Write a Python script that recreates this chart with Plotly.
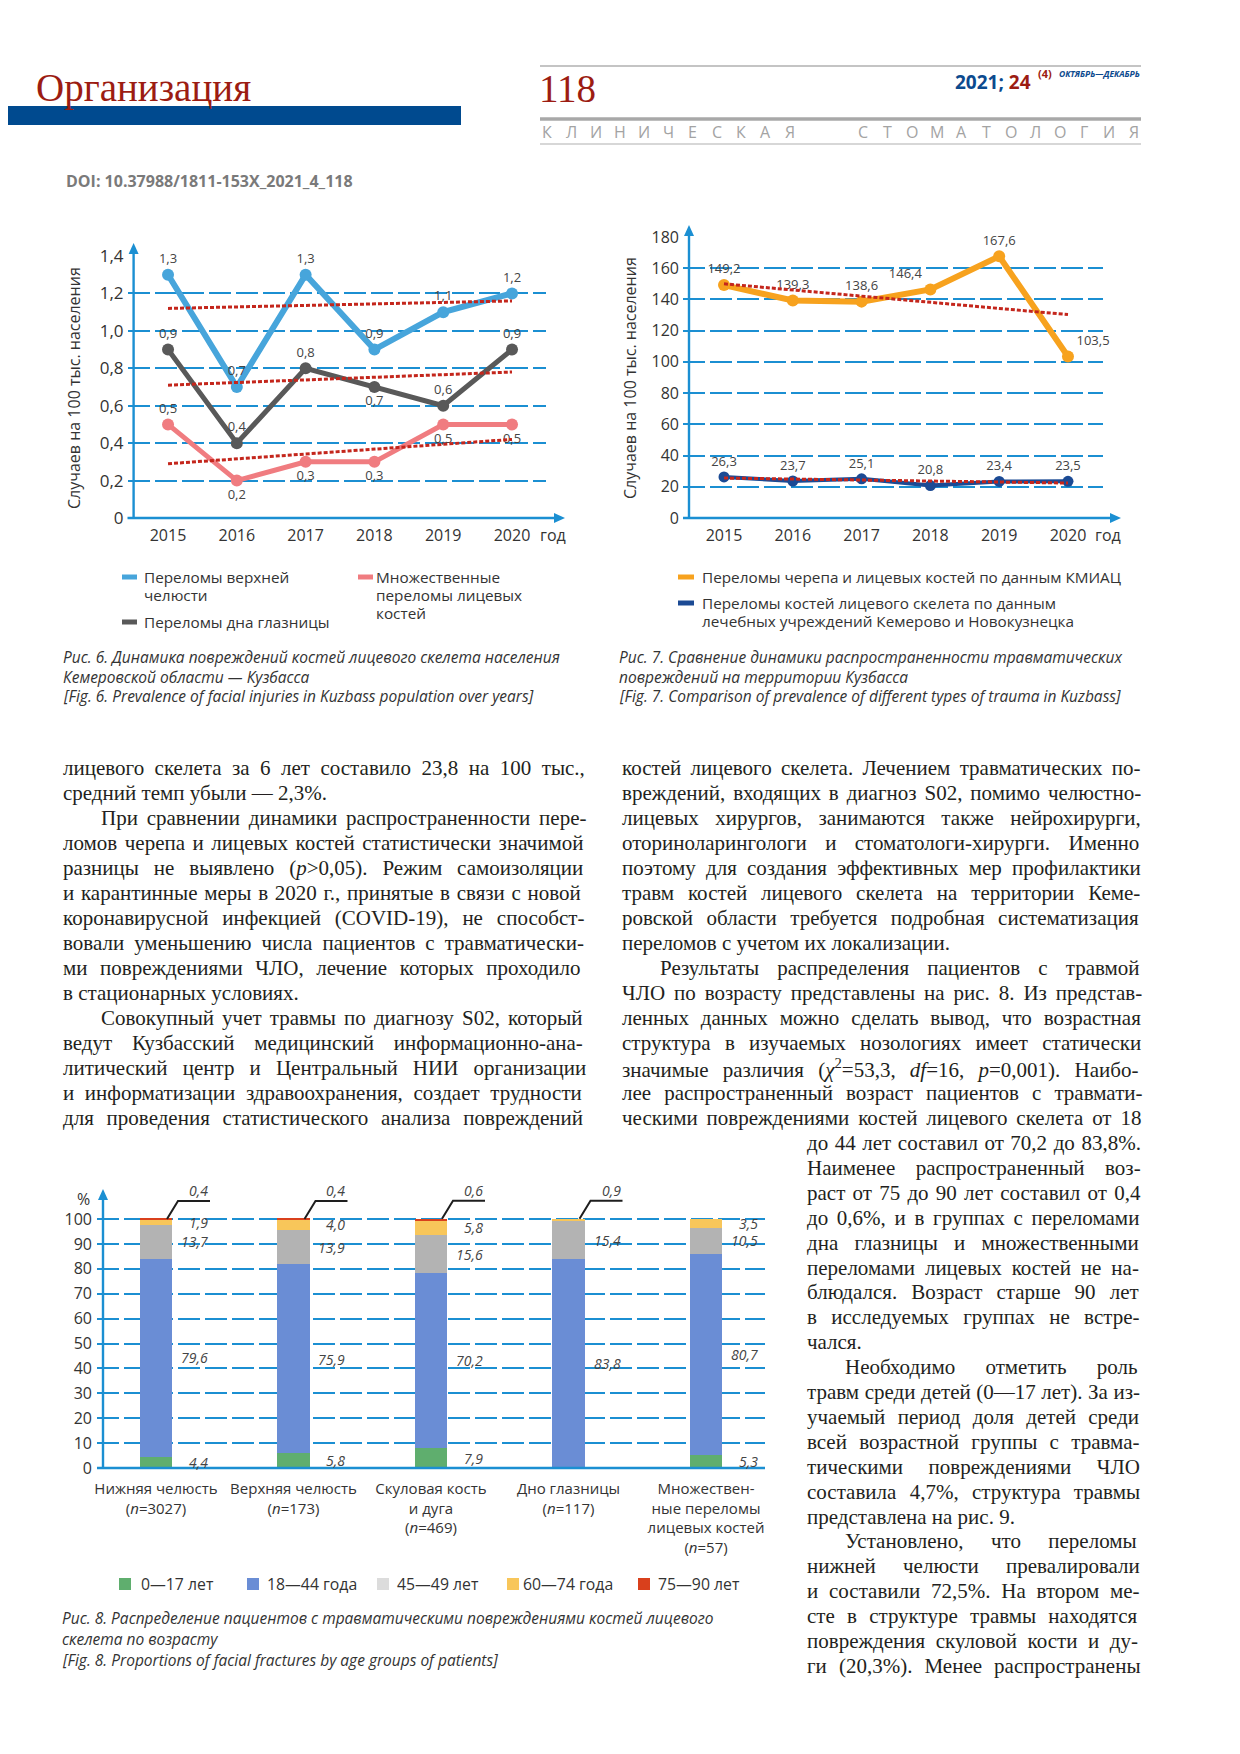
import re
import plotly.graph_objects as go

# page geometry: the browser keeps an 8px body margin, so the figure is 16px smaller
PAGE_W, PAGE_H = 1240, 1754
OFF = 8
FW, FH = PAGE_W - 2 * OFF, PAGE_H - 2 * OFF

# ---------------- DATA ----------------
# Fig. 6
years = [2015, 2016, 2017, 2018, 2019, 2020]
upper_jaw = [1.3, 0.7, 1.3, 0.9, 1.1, 1.2]
orbit_floor = [0.9, 0.4, 0.8, 0.7, 0.6, 0.9]
multiple_fx = [0.5, 0.2, 0.3, 0.3, 0.5, 0.5]
trend_years = [2015, 2020]
upper_jaw_trend = [1.12, 1.16]
orbit_floor_trend = [0.71, 0.78]
multiple_fx_trend = [0.29, 0.42]
fig6_yticks = [0, 0.2, 0.4, 0.6, 0.8, 1.0, 1.2, 1.4]

# Fig. 7
kmiac = [149.2, 139.3, 138.6, 146.4, 167.6, 103.5]
clinics = [26.3, 23.7, 25.1, 20.8, 23.4, 23.5]
kmiac_trend = [150.0, 130.3]
clinics_trend = [25.6, 22.4]
fig7_yticks = [0, 20, 40, 60, 80, 100, 120, 140, 160, 180]

# Fig. 8
categories = ["Нижняя челюсть", "Верхняя челюсть", "Скуловая кость<br>и дуга",
              "Дно глазницы", "Множествен-<br>ные переломы<br>лицевых костей"]
cat_n = [3027, 173, 469, 117, 57]
age_groups = ["0—17 лет", "18—44 года", "45—49 лет", "60—74 года", "75—90 лет"]
age_0_17 = [4.4, 5.8, 7.9, 0.0, 5.3]
age_18_44 = [79.6, 75.9, 70.2, 83.8, 80.7]
age_45_59 = [13.7, 13.9, 15.6, 15.4, 10.5]
age_60_74 = [1.9, 4.0, 5.8, 0.9, 3.5]
age_75_90 = [0.4, 0.4, 0.6, 0.0, 0.0]
fig8_yticks = [0, 10, 20, 30, 40, 50, 60, 70, 80, 90, 100]

# ---------------- STYLE ----------------
SANS = "Open Sans, Noto Sans, DejaVu Sans, sans-serif"
SERIF = "Liberation Serif, Times New Roman, serif"
AX = "#1b8fd2"
TXT = "#333333"
LBL = "#444444"
C_BLUE = "#47a5db"
C_GRAY = "#595959"
C_PINK = "#f07c80"
C_ORANGE = "#f7a21e"
C_NAVY = "#1b4a94"
C_TREND = "#c4261c"
AGE_COLORS = ["#5fae6e", "#6a8dd5", "#b3b3b3", "#f8c65a", "#d9401c"]
AGE_SWATCH = ["#5fae6e", "#6a8dd5", "#dcdcdc", "#f8c65a", "#d9401c"]
RED_DARK = "#9c1c12"
BLUE_DARK = "#0c4a8e"
LEG = 15.3


def X(px):
    return (px - OFF) / FW


def Y(py):
    return 1 - (py - OFF) / FH


def fmt(v):
    return "0" if v == 0 else f"{v:.1f}".replace(".", ",")


annotations = []
shapes = []


def txt(x, y, s, size=16, color=TXT, family=SANS, xanchor="left", yanchor="middle", **kw):
    annotations.append(dict(x=X(x), y=Y(y), xref="paper", yref="paper", text=s,
                            showarrow=False, font=dict(size=size, color=color, family=family),
                            xanchor=xanchor, yanchor=yanchor, **kw))


def line(x0, y0, x1, y1, color, width, dash=None):
    shapes.append(dict(type="line", xref="paper", yref="paper", x0=X(x0), y0=Y(y0),
                       x1=X(x1), y1=Y(y1), line=dict(color=color, width=width, dash=dash)))


def rect(x0, y0, x1, y1, color):
    shapes.append(dict(type="rect", xref="paper", yref="paper", x0=X(x0), y0=Y(y0),
                       x1=X(x1), y1=Y(y1), line=dict(width=0), fillcolor=color))


def poly(points, color):
    path = "M " + " L ".join(f"{X(px)} {Y(py)}" for px, py in points) + " Z"
    shapes.append(dict(type="path", xref="paper", yref="paper", path=path,
                       fillcolor=color, line=dict(width=0)))


def arrow_up(x, y0, y1, color=AX, width=2.4):
    line(x, y0, x, y1 + 6, color, width)
    poly([(x - 5, y1 + 11), (x + 5, y1 + 11), (x, y1)], color)


def arrow_right(x0, x1, y, color=AX, width=2.4):
    line(x0, y, x1 - 6, y, color, width)
    poly([(x1 - 11, y - 5), (x1 - 11, y + 5), (x1, y)], color)


fig = go.Figure()

# ---------------- FIG 6 ----------------
pos_upper = ["top center"] * 6
pos_orbit = ["top center", "top center", "top center", "bottom center", "top center", "top center"]
pos_mult = ["top center", "bottom center", "bottom center", "bottom center", "bottom center", "bottom center"]

for vals, col, w, pos in [(upper_jaw, C_BLUE, 6, pos_upper),
                          (orbit_floor, C_GRAY, 5, pos_orbit),
                          (multiple_fx, C_PINK, 5, pos_mult)]:
    fig.add_trace(go.Scatter(x=years, y=vals, mode="lines+markers+text",
                             line=dict(color=col, width=w), marker=dict(size=12, color=col),
                             text=[fmt(v) for v in vals], textposition=pos,
                             textfont=dict(size=13, color=LBL, family=SANS),
                             cliponaxis=False, xaxis="x", yaxis="y", hoverinfo="skip"))
for tr in [upper_jaw_trend, orbit_floor_trend, multiple_fx_trend]:
    fig.add_trace(go.Scatter(x=trend_years, y=tr, mode="lines",
                             line=dict(color=C_TREND, width=3, dash="4px,2px"),
                             xaxis="x", yaxis="y", hoverinfo="skip"))

# ---------------- FIG 7 ----------------
pos_kmiac = ["top center", "top center", "top center", "top left", "top center", "top right"]
fig.add_trace(go.Scatter(x=years, y=kmiac, mode="lines+markers+text",
                         line=dict(color=C_ORANGE, width=6), marker=dict(size=12, color=C_ORANGE),
                         text=[fmt(v) for v in kmiac], textposition=pos_kmiac,
                         textfont=dict(size=13, color=LBL, family=SANS),
                         cliponaxis=False, xaxis="x2", yaxis="y2", hoverinfo="skip"))
fig.add_trace(go.Scatter(x=years, y=clinics, mode="lines+markers+text",
                         line=dict(color=C_NAVY, width=4), marker=dict(size=11, color=C_NAVY),
                         text=[fmt(v) for v in clinics], textposition="top center",
                         textfont=dict(size=13, color=LBL, family=SANS),
                         cliponaxis=False, xaxis="x2", yaxis="y2", hoverinfo="skip"))
for tr in [kmiac_trend, clinics_trend]:
    fig.add_trace(go.Scatter(x=trend_years, y=tr, mode="lines",
                             line=dict(color=C_TREND, width=3, dash="4px,2px"),
                             xaxis="x2", yaxis="y2", hoverinfo="skip"))

# ---------------- FIG 8 ----------------
xpos = list(range(len(categories)))
series8 = [age_0_17, age_18_44, age_45_59, age_60_74, age_75_90]
for name, vals, col in zip(age_groups, series8, AGE_COLORS):
    fig.add_trace(go.Bar(x=xpos, y=vals, name=name, marker=dict(color=col, line=dict(width=0)),
                         width=0.233, xaxis="x3", yaxis="y3", hoverinfo="skip"))

# axes geometry (page pixels)
F6 = dict(x0=127.5, x1=546, y0=518, y1=256)
F7 = dict(x0=683, x1=1103, y0=518, y1=237)
F8 = dict(x0=97, x1=765, y0=1468)
f8_range_y = [0, 112]
f8_px_per_pct = 2.49
f8_range_x = [-0.429, 4.429]
F8["y1"] = F8["y0"] - f8_range_y[1] * f8_px_per_pct
f8_px_per_cat = (F8["x1"] - F8["x0"]) / (f8_range_x[1] - f8_range_x[0])

grid = dict(showgrid=True, gridcolor=AX, gridwidth=2.2, griddash="22px,5px", zeroline=False,
            showline=False, ticks="", automargin=False)
xcommon = dict(showgrid=False, zeroline=False, showline=False, ticks="", automargin=False)

layout_axes = dict(
    xaxis=dict(domain=[X(F6["x0"]), X(F6["x1"])], range=[2014.411, 2020.494], anchor="y",
               tickvals=years, tickfont=dict(size=16, color=TXT, family=SANS),
               ticklabelstandoff=6, **xcommon),
    yaxis=dict(domain=[Y(F6["y0"]), Y(F6["y1"])], range=[0, 1.4], anchor="x",
               tickvals=fig6_yticks, ticktext=[fmt(v) for v in fig6_yticks],
               tickfont=dict(size=17, color=TXT, family=SANS), ticklabelstandoff=3, **grid),
    xaxis2=dict(domain=[X(F7["x0"]), X(F7["x1"])], range=[2014.404, 2020.509], anchor="y2",
                tickvals=years, tickfont=dict(size=16, color=TXT, family=SANS),
                ticklabelstandoff=6, **xcommon),
    yaxis2=dict(domain=[Y(F7["y0"]), Y(F7["y1"])], range=[0, 180], anchor="x2",
                tickvals=fig7_yticks, ticktext=[str(v) for v in fig7_yticks],
                tickfont=dict(size=16, color=TXT, family=SANS), ticklabelstandoff=3, **grid),
    xaxis3=dict(domain=[X(F8["x0"]), X(F8["x1"])], range=f8_range_x, anchor="y3",
                tickvals=xpos,
                ticktext=[f"{c}<br>(<i>n</i>={n})" for c, n in zip(categories, cat_n)],
                tickfont=dict(size=15, color=TXT, family=SANS), ticklabelstandoff=10, **xcommon),
    yaxis3=dict(domain=[Y(F8["y0"]), Y(F8["y1"])], range=f8_range_y, anchor="x3",
                tickvals=fig8_yticks, ticktext=[str(v) for v in fig8_yticks],
                tickfont=dict(size=16, color=TXT, family=SANS), ticklabelstandoff=4, **grid),
)

# axis lines with arrows
arrow_right(F6["x0"], 565, 518)
arrow_up(133.6, 518, 243)
arrow_right(F7["x0"], 1121, 518)
arrow_up(689, 518, 225)
line(F8["x0"], F8["y0"], F8["x1"], F8["y0"], AX, 2.4)
arrow_up(103, 1468, 1189)

# axis titles / units
txt(74, 388, "Случаев на 100 тыс. населения", size=16, xanchor="center", textangle=-90)
txt(630, 378, "Случаев на 100 тыс. населения", size=16, xanchor="center", textangle=-90)
txt(553, 535, "год", size=16, xanchor="center")
txt(1108, 535, "год", size=16, xanchor="center")
txt(83, 1199, "%", size=16, xanchor="center")

# Fig 8 value labels
for i in xpos:
    vals = [s[i] for s in series8]
    nz = [k for k, v in enumerate(vals) if v > 0]
    top_k = nz[-1]
    cum = 0.0
    for k, v in enumerate(vals):
        if v <= 0:
            continue
        if k == top_k and v < 1:
            top = cum + v
            dx1 = 11 / f8_px_per_cat
            dx2 = 22 / f8_px_per_cat
            dx3 = 54 / f8_px_per_cat
            dy = 18 / f8_px_per_pct
            shapes.append(dict(type="path", xref="x3", yref="y3",
                               path=f"M {i + dx1} {top} L {i + dx2} {top + dy} L {i + dx3} {top + dy}",
                               line=dict(color="#1e1e1e", width=2)))
            annotations.append(dict(x=i, y=min(top, 100), xref="x3", yref="y3", text=f"<i>{fmt(v)}</i>",
                                    showarrow=False, xanchor="right", yanchor="middle",
                                    xshift=54, yshift=29,
                                    font=dict(size=14, color=LBL, family=SANS)))
        else:
            annotations.append(dict(x=i, y=cum + v / 2, xref="x3", yref="y3", text=f"<i>{fmt(v)}</i>",
                                    showarrow=False, xanchor="right", yanchor="middle",
                                    xshift=54, font=dict(size=14, color=LBL, family=SANS)))
        cum += v

# ---------------- LEGENDS ----------------
line(122, 577, 137, 577, C_BLUE, 5)
txt(142, 577, "Переломы верхней", size=LEG)
txt(142, 595, "челюсти", size=LEG)
line(122, 622, 137, 622, C_GRAY, 5)
txt(142, 622, "Переломы дна глазницы", size=LEG)
line(358, 577, 373, 577, C_PINK, 5)
txt(374, 577, "Множественные", size=LEG)
txt(374, 595, "переломы лицевых", size=LEG)
txt(374, 613, "костей", size=LEG)

line(678, 577, 694, 577, C_ORANGE, 5)
txt(700, 577, "Переломы черепа и лицевых костей по данным КМИАЦ", size=LEG)
line(678, 603, 694, 603, C_NAVY, 5)
txt(700, 603, "Переломы костей лицевого скелета по данным", size=LEG)
txt(700, 621, "лечебных учреждений Кемерово и Новокузнецка", size=LEG)

sw_x = [125, 253, 383, 513, 644]
tx_x = [139, 265, 395, 521, 656]
for g, c, sx, tx in zip(age_groups, AGE_SWATCH, sw_x, tx_x):
    rect(sx - 6, 1578, sx + 6, 1590, c)
    txt(tx, 1584, g, size=LEG + 0.5)

# ---------------- CAPTIONS ----------------
cap = dict(size=15.5, color="#333333", family=SANS)
for k, s in enumerate(["<i>Рис. 6. Динамика повреждений костей лицевого скелета населения</i>",
                       "<i>Кемеровской области — Кузбасса</i>",
                       "<i>[Fig. 6. Prevalence of facial injuries in Kuzbass population over years]</i>"]):
    txt(61, 657 + 19.5 * k, s, **cap)
for k, s in enumerate(["<i>Рис. 7. Сравнение динамики распространенности травматических</i>",
                       "<i>повреждений на территории Кузбасса</i>",
                       "<i>[Fig. 7. Comparison of prevalence of different types of trauma in Kuzbass]</i>"]):
    txt(617, 657 + 19.5 * k, s, **cap)
for k, s in enumerate(["<i>Рис. 8. Распределение пациентов с травматическими повреждениями костей лицевого</i>",
                       "<i>скелета по возрасту</i>",
                       "<i>[Fig. 8. Proportions of facial fractures by age groups of patients]</i>"]):
    txt(60, 1618 + 21 * k, s, **cap)

# ---------------- HEADER ----------------
txt(34, 88, "Организация", size=39, color=RED_DARK, family=SERIF)
rect(0, 106, 461, 125, "#004a8f")
txt(537, 88, "118", size=39, color=RED_DARK, family=SERIF)
line(540, 66, 1141, 66, "#b0b0b0", 1.5)
line(540, 119, 1141, 119, "#a8a8a8", 3.5)
line(540, 144, 1141, 144, "#b0b0b0", 1.2)
txt(1033, 82, f"<b><span style='color:{BLUE_DARK}'>2021; </span><span style='color:{RED_DARK}'>24</span></b>",
    size=19, xanchor="right")
txt(1036, 73, "<b>(4)</b>", size=11, color=RED_DARK)
txt(1142, 74, "<b><i>ОКТЯБРЬ—ДЕКАБРЬ</i></b>", size=8.5, color=BLUE_DARK, xanchor="right")
for k, ch in enumerate("КЛИНИЧЕСКАЯ"):
    txt(547 + 24.3 * k, 132, ch, size=16, color="#a3a3a3", xanchor="center")
for k, ch in enumerate("СТОМАТОЛОГИЯ"):
    txt(863 + 24.6 * k, 132, ch, size=16, color="#a3a3a3", xanchor="center")
txt(64, 181, "<b>DOI: 10.37988/1811-153X_2021_4_118</b>", size=16, color="#7a7a7a")

# ---------------- BODY TEXT (justified via word spacing) ----------------
TNR = {}
for ch, w in zip("абвгдеёжзийклмнопрстуфхцчшщъыьэюя",
                 [444, 500, 472, 410, 500, 444, 444, 691, 395, 535, 535, 486, 499, 633, 535, 500, 535,
                  500, 444, 437, 500, 648, 500, 535, 503, 770, 770, 517, 672, 456, 429, 747, 485]):
    TNR[ch] = w
for ch, w in zip("АБВГДЕЁЖЗИЙКЛМНОПРСТУФХЦЧШЩЪЫЬЭЮЯ",
                 [722, 574, 667, 578, 682, 611, 611, 896, 501, 722, 722, 667, 678, 889, 722, 722, 722,
                  556, 667, 611, 715, 790, 722, 722, 668, 1000, 1000, 700, 880, 574, 653, 1000, 667]):
    TNR[ch] = w
TNR.update({" ": 250, ",": 250, ".": 250, "-": 333, "—": 1000, "(": 333, ")": 333, "%": 833,
            ">": 564, "=": 564, ":": 278, "S": 556, "C": 667, "O": 722, "V": 722, "I": 333,
            "D": 722, "p": 500, "d": 500, "f": 333, "χ": 549, "\u0001": 350})
for dgt in "0123456789":
    TNR[dgt] = 500
CAL = 1.0

BODY_SIZE = 21
BODY = dict(size=BODY_SIZE, color="#231f20", family=SERIF)
IND = 38


def plain_text(s):
    s = re.sub(r"<sup>(.*?)</sup>", lambda m: "\u0001" * len(m.group(1)), s)
    return re.sub(r"<[^>]+>", "", s).replace("&gt;", ">")


def justify(s, width, last):
    if last:
        return s
    p = plain_text(s)
    nat = sum(TNR.get(c, 500) for c in p) * BODY_SIZE / 1000 * CAL
    n = p.count(" ")
    if n == 0:
        return s
    extra = max(-2.0, (width - nat) / n)
    return f"<span style=\"word-spacing:{extra:.2f}px\">{s}</span>"


left_col = [
    (0, "лицевого скелета за 6 лет составило 23,8 на 100 тыс.,", False),
    (0, "средний темп убыли — 2,3%.", True),
    (1, "При сравнении динамики распространенности пере-", False),
    (0, "ломов черепа и лицевых костей статистически значимой", False),
    (0, "разницы не выявлено (<i>p</i>&gt;0,05). Режим самоизоляции", False),
    (0, "и карантинные меры в 2020 г., принятые в связи с новой", False),
    (0, "коронавирусной инфекцией (COVID-19), не способст-", False),
    (0, "вовали уменьшению числа пациентов с травматически-", False),
    (0, "ми повреждениями ЧЛО, лечение которых проходило", False),
    (0, "в стационарных условиях.", True),
    (1, "Совокупный учет травмы по диагнозу S02, который", False),
    (0, "ведут Кузбасский медицинский информационно-ана-", False),
    (0, "литический центр и Центральный НИИ организации", False),
    (0, "и информатизации здравоохранения, создает трудности", False),
    (0, "для проведения статистического анализа повреждений", False),
]
right_col = [
    (0, "костей лицевого скелета. Лечением травматических по-", False),
    (0, "вреждений, входящих в диагноз S02, помимо челюстно-", False),
    (0, "лицевых хирургов, занимаются также нейрохирурги,", False),
    (0, "оториноларингологи и стоматологи-хирурги. Именно", False),
    (0, "поэтому для создания эффективных мер профилактики", False),
    (0, "травм костей лицевого скелета на территории Кеме-", False),
    (0, "ровской области требуется подробная систематизация", False),
    (0, "переломов с учетом их локализации.", True),
    (1, "Результаты распределения пациентов с травмой", False),
    (0, "ЧЛО по возрасту представлены на рис. 8. Из представ-", False),
    (0, "ленных данных можно сделать вывод, что возрастная", False),
    (0, "структура в изучаемых нозологиях имеет статически", False),
    (0, "значимые различия (<i>χ</i><sup>2</sup>=53,3, <i>df</i>=16, <i>p</i>=0,001). Наибо-", False),
    (0, "лее распространенный возраст пациентов с травмати-", False),
    (0, "ческими повреждениями костей лицевого скелета от 18", False),
]
narrow_col = [
    (0, "до 44 лет составил от 70,2 до 83,8%.", False),
    (0, "Наименее распространенный воз-", False),
    (0, "раст от 75 до 90 лет составил от 0,4", False),
    (0, "до 0,6%, и в группах с переломами", False),
    (0, "дна глазницы и множественными", False),
    (0, "переломами лицевых костей не на-", False),
    (0, "блюдался. Возраст старше 90 лет", False),
    (0, "в исследуемых группах не встре-", False),
    (0, "чался.", True),
    (1, "Необходимо отметить роль", False),
    (0, "травм среди детей (0—17 лет). За из-", False),
    (0, "учаемый период доля детей среди", False),
    (0, "всей возрастной группы с травма-", False),
    (0, "тическими повреждениями ЧЛО", False),
    (0, "составила 4,7%, структура травмы", False),
    (0, "представлена на рис. 9.", True),
    (1, "Установлено, что переломы", False),
    (0, "нижней челюсти превалировали", False),
    (0, "и составили 72,5%. На втором ме-", False),
    (0, "сте в структуре травмы находятся", False),
    (0, "повреждения скуловой кости и ду-", False),
    (0, "ги (20,3%). Менее распространены", False),
]

for col, x_l, x_r, y0, step in [(left_col, 61, 585, 768, 25.0),
                                (right_col, 620, 1143, 768, 25.0),
                                (narrow_col, 805, 1140, 1143, 24.9)]:
    for k, (ind, s, last) in enumerate(col):
        xl = x_l + IND * ind
        txt(xl, y0 + step * k, justify(s, x_r - xl - 2, last), **BODY)

fig.update_layout(
    width=FW, height=FH, autosize=False,
    margin=dict(l=0, r=0, t=0, b=0, pad=0, autoexpand=False),
    paper_bgcolor="white", plot_bgcolor="white",
    showlegend=False, barmode="stack", bargap=0,
    annotations=annotations, shapes=shapes,
    font=dict(family=SANS, color=TXT),
    **layout_axes,
)

fig.write_html("out.html", config={"displayModeBar": False})
